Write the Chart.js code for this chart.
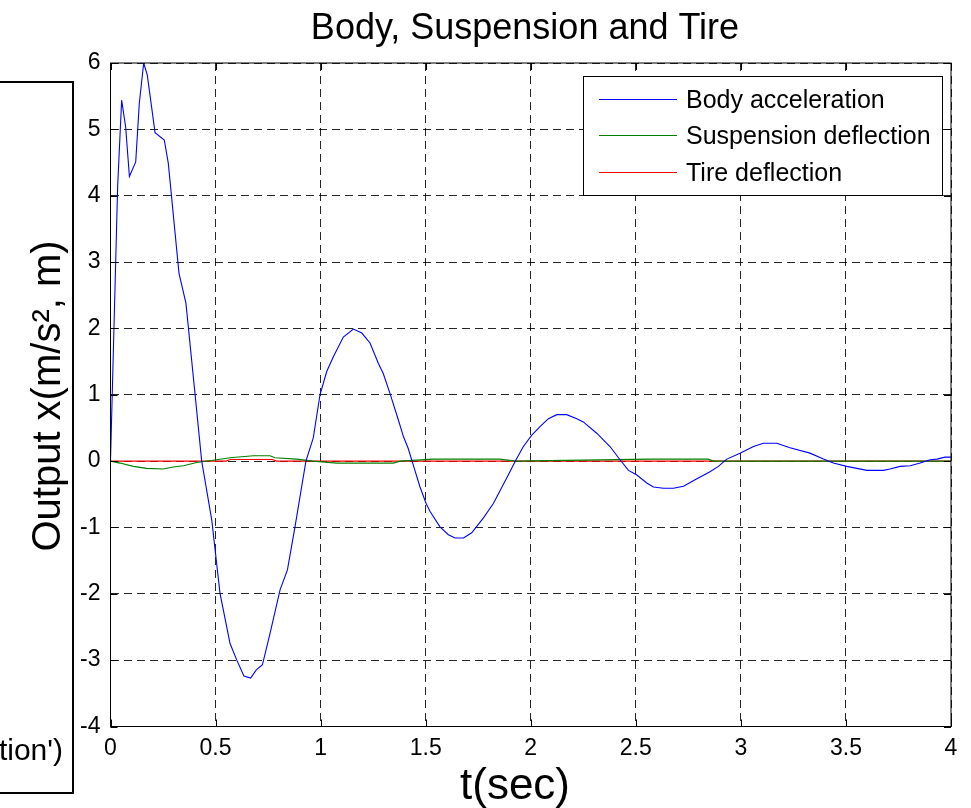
<!DOCTYPE html>
<html>
<head>
<meta charset="utf-8">
<script src="https://cdn.jsdelivr.net/npm/chart.js@4.4.0/dist/chart.umd.min.js"></script>
<style>
html,body{margin:0;padding:0;background:#fff;}
canvas{display:block;}
</style>
</head>
<body>
<canvas id="c" width="971" height="808"></canvas>
<script>
// ---- data ----
const bodyTime = [0, 0.034, 0.053, 0.072, 0.09, 0.12, 0.137, 0.158, 0.175, 0.212, 0.256, 0.275, 0.326, 0.359, 0.402, 0.434, 0.482, 0.521, 0.569, 0.601, 0.635, 0.667, 0.693, 0.723, 0.759, 0.807, 0.842, 0.878, 0.93, 0.965, 0.997, 1.029, 1.06, 1.108, 1.156, 1.196, 1.235, 1.275, 1.298, 1.33, 1.37, 1.394, 1.417, 1.441, 1.473, 1.502, 1.521, 1.568, 1.608, 1.64, 1.68, 1.719, 1.774, 1.822, 1.893, 1.93, 1.965, 2.005, 2.044, 2.084, 2.124, 2.171, 2.219, 2.25, 2.314, 2.377, 2.425, 2.465, 2.505, 2.552, 2.584, 2.631, 2.679, 2.727, 2.782, 2.853, 2.893, 2.933, 2.996, 3.06, 3.107, 3.171, 3.234, 3.329, 3.393, 3.44, 3.504, 3.552, 3.6, 3.678, 3.71, 3.758, 3.806, 3.853, 3.901, 3.933, 3.972, 4.0];
const bodyAcceleration = [0, 4.14, 5.44, 5.04, 4.29, 4.51, 5.39, 6.0, 5.82, 4.95, 4.84, 4.49, 2.83, 2.38, 1.02, 0, -0.89, -1.99, -2.75, -3.0, -3.24, -3.27, -3.15, -3.07, -2.60, -1.94, -1.64, -0.99, 0, 0.35, 1.0, 1.35, 1.57, 1.87, 1.99, 1.93, 1.78, 1.47, 1.32, 1.02, 0.62, 0.37, 0.19, -0.06, -0.39, -0.64, -0.76, -0.99, -1.11, -1.16, -1.16, -1.08, -0.86, -0.64, -0.21, 0.02, 0.22, 0.39, 0.52, 0.64, 0.70, 0.70, 0.64, 0.59, 0.42, 0.22, 0.02, -0.14, -0.21, -0.33, -0.39, -0.41, -0.41, -0.38, -0.28, -0.16, -0.08, 0.03, 0.12, 0.22, 0.27, 0.27, 0.20, 0.12, 0.03, -0.03, -0.08, -0.11, -0.14, -0.14, -0.12, -0.08, -0.07, -0.03, 0.02, 0.03, 0.06, 0.06];

const suspTime = [0, 0.045, 0.109, 0.172, 0.251, 0.299, 0.347, 0.41, 0.505, 0.569, 0.68, 0.759, 0.783, 0.886, 0.965, 1.077, 1.346, 1.378, 1.536, 1.85, 1.93, 2.568, 2.844, 2.87, 4.0];
const suspDeflection = [0, -0.03, -0.08, -0.11, -0.12, -0.09, -0.07, -0.02, 0.02, 0.05, 0.08, 0.08, 0.05, 0.03, 0, -0.03, -0.03, 0, 0.03, 0.03, 0, 0.03, 0.03, 0, 0];

const tireTime = [0, 0.55, 0.57, 0.77, 0.79, 4.0];
const tireDeflection = [0, 0, 0.025, 0.025, 0, 0];

const seriesLabels = ['Body acceleration', 'Suspension deflection', 'Tire deflection'];
const xTicks = [0, 0.5, 1, 1.5, 2, 2.5, 3, 3.5, 4];
const yTicks = [-4, -3, -2, -1, 0, 1, 2, 3, 4, 5, 6];
const titleText = 'Body, Suspension and Tire';
const xLabel = 't(sec)';
const yLabel = 'Output x(m/s\u00B2, m)';
const strayText = "tion')";

// ---- build ----
const FONT = "'Liberation Sans', Arial, Helvetica, sans-serif";
const zip = (xs, ys) => xs.map((x, i) => ({x: x, y: ys[i]}));
const colors = ['#0000ff', '#007f00', '#ff0000'];

const decor = {
  id: 'decor',
  afterDraw(chart) {
    const ctx = chart.ctx;
    const a = chart.chartArea;
    const xs = chart.scales.x, ys = chart.scales.y;
    ctx.save();
    // axes box
    ctx.strokeStyle = '#000';
    ctx.lineWidth = 1;
    ctx.setLineDash([]);
    ctx.strokeRect(a.left, a.top, a.right - a.left, a.bottom - a.top);
    // inward ticks
    ctx.beginPath();
    xTicks.forEach(v => {
      const px = Math.round(xs.getPixelForValue(v)) + 0.5;
      ctx.moveTo(px, a.bottom); ctx.lineTo(px, a.bottom - 7);
      ctx.moveTo(px, a.top); ctx.lineTo(px, a.top + 7);
    });
    yTicks.forEach(v => {
      const py = Math.round(ys.getPixelForValue(v)) + 0.5;
      ctx.moveTo(a.left, py); ctx.lineTo(a.left + 7, py);
      ctx.moveTo(a.right, py); ctx.lineTo(a.right - 7, py);
    });
    ctx.stroke();

    // legend
    const lx = 583.5, ly = 76.5, lw = 359, lh = 119;
    ctx.fillStyle = '#fff';
    ctx.fillRect(lx, ly, lw, lh);
    ctx.strokeStyle = '#000';
    ctx.lineWidth = 1;
    ctx.strokeRect(lx, ly, lw, lh);
    ctx.font = '25px ' + FONT;
    ctx.textBaseline = 'alphabetic';
    ctx.textAlign = 'left';
    const rowBase = [107.5, 144.3, 180.7];
    chart.data.datasets.forEach((ds, i) => {
      const yMid = Math.round(rowBase[i] - 9) + 0.5;
      ctx.beginPath();
      ctx.strokeStyle = colors[i];
      ctx.lineWidth = 1;
      ctx.moveTo(599, yMid);
      ctx.lineTo(677, yMid);
      ctx.stroke();
      ctx.fillStyle = '#000';
      ctx.fillText(ds.label, 686, rowBase[i]);
    });

    // title
    ctx.fillStyle = '#000';
    ctx.font = '36px ' + FONT;
    ctx.textAlign = 'center';
    ctx.fillText(titleText, 525, 39);

    // x label
    ctx.font = '44px ' + FONT;
    ctx.fillText(xLabel, 515, 799);

    // y label
    ctx.font = '40px ' + FONT;
    ctx.save();
    ctx.translate(60, 396);
    ctx.rotate(-Math.PI / 2);
    ctx.fillText(yLabel, 0, 0);
    ctx.restore();

    // stray overlapping box from another window
    ctx.strokeStyle = '#000';
    ctx.lineWidth = 2;
    ctx.beginPath();
    ctx.moveTo(0, 82); ctx.lineTo(73, 82); ctx.lineTo(73, 793); ctx.lineTo(0, 793);
    ctx.stroke();
    ctx.font = '30px ' + FONT;
    ctx.textAlign = 'right';
    ctx.fillText(strayText, 63, 760);
    ctx.restore();
  }
};

new Chart(document.getElementById('c'), {
  type: 'line',
  data: {
    datasets: [
      {label: seriesLabels[0], data: zip(bodyTime, bodyAcceleration), borderColor: colors[0], borderWidth: 1.1},
      {label: seriesLabels[1], data: zip(suspTime, suspDeflection), borderColor: colors[1], borderWidth: 1.1},
      {label: seriesLabels[2], data: zip(tireTime, tireDeflection), borderColor: colors[2], borderWidth: 1.1}
    ]
  },
  options: {
    responsive: false,
    animation: false,
    devicePixelRatio: 1,
    layout: {padding: {left: 0, right: 20, top: 63, bottom: 0}},
    elements: {point: {radius: 0}, line: {tension: 0, fill: false}},
    plugins: {legend: {display: false}, title: {display: false}, tooltip: {enabled: false}},
    scales: {
      x: {
        type: 'linear', min: 0, max: 4,
        afterFit: s => { s.height = 81.5; },
        afterBuildTicks: s => { s.ticks = xTicks.map(v => ({value: v})); },
        ticks: {color: '#000', font: {family: FONT, size: 23}, padding: 8, maxRotation: 0, autoSkip: false,
                callback: v => String(v)},
        grid: {color: 'rgba(0,0,0,0.85)', lineWidth: 1, drawTicks: false},
        border: {display: true, color: '#000', dash: [8, 5]}
      },
      y: {
        type: 'linear', min: -4, max: 6,
        afterFit: s => { s.width = 110.5; },
        afterBuildTicks: s => { s.ticks = yTicks.map(v => ({value: v})); },
        ticks: {color: '#000', font: {family: FONT, size: 23}, padding: 10, autoSkip: false,
                callback: v => String(v)},
        grid: {color: 'rgba(0,0,0,0.85)', lineWidth: 1, drawTicks: false},
        border: {display: true, color: '#000', dash: [8, 5]}
      }
    }
  },
  plugins: [decor]
});
</script>
</body>
</html>
